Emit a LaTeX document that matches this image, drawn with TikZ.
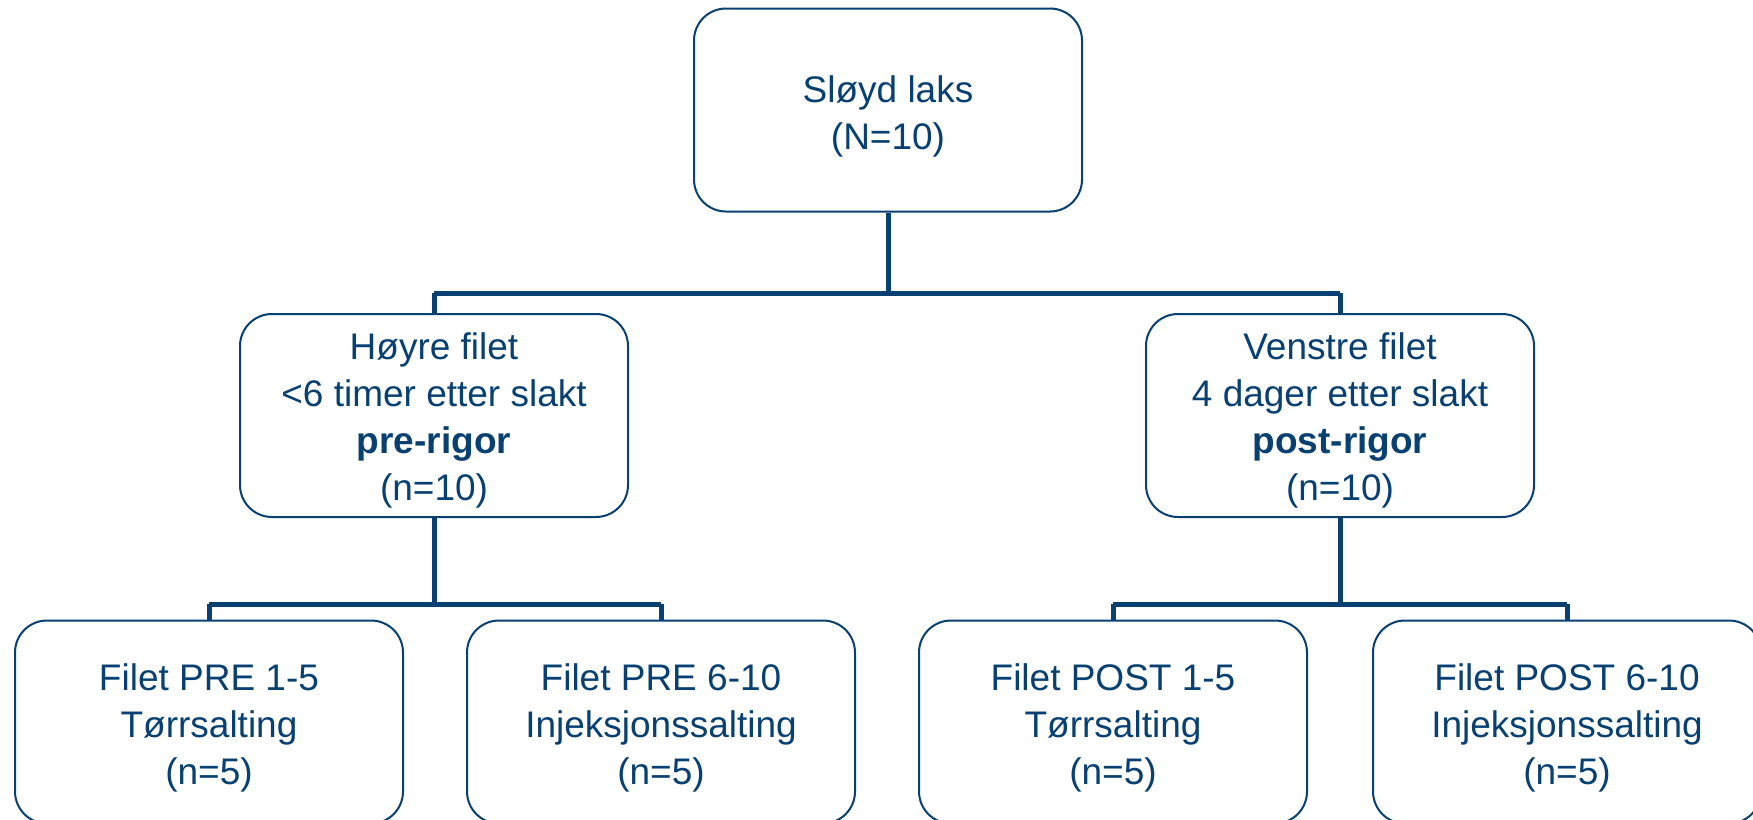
\documentclass[tikz,border=0pt]{standalone}
\usepackage{fontspec}
\setmainfont{Liberation Sans}
\definecolor{navy}{RGB}{8,64,114}
\begin{document}
\begin{tikzpicture}[x=1pt,y=-1pt,
  box/.style={draw=navy, line width=2pt, rounded corners=32pt, fill=white,
    minimum width=388pt, minimum height=203pt, inner sep=0pt},
  txt/.style={align=center, text=navy, font=\fontsize{37}{47}\selectfont, inner sep=0pt},
  conn/.style={draw=navy, line width=5pt}]
\useasboundingbox (0,0) rectangle (1753,819);
\fill[white] (0,0) rectangle (1753,819);
\coordinate (ht) at (888,293);
\coordinate (hl) at (434,293);
\coordinate (hr) at (1340,293);
\coordinate (bl) at (434,604);
\coordinate (br) at (1340,604);
\coordinate (bl1) at (209,604);
\coordinate (bl2) at (661,604);
\coordinate (br1) at (1113,604);
\coordinate (br2) at (1567,604);
\node[box] (top) at (888,110) {};
\node[box] (ml) at (434,415.5) {};
\node[box] (mr) at (1340,415.5) {};
\node[box] (b1) at (209,722) {};
\node[box] (b2) at (661,722) {};
\node[box] (b3) at (1113,722) {};
\node[box] (b4) at (1567,722) {};
\node[txt] (ttop) at ([yshift=-6pt]top.center) {Sløyd laks\\(N=10)};
\node[txt] (tml) at ([yshift=-5pt]ml.center) {Høyre filet\\<6 timer etter slakt\\\textbf{pre-rigor}\\(n=10)};
\node[txt] (tmr) at ([yshift=-5pt]mr.center) {Venstre filet\\4 dager etter slakt\\\textbf{post-rigor}\\(n=10)};
\node[txt] (tb1) at ([yshift=-6pt]b1.center) {Filet PRE 1-5\\Tørrsalting\\(n=5)};
\node[txt] (tb2) at ([yshift=-6pt]b2.center) {Filet PRE 6-10\\Injeksjonssalting\\(n=5)};
\node[txt] (tb3) at ([yshift=-6pt]b3.center) {Filet POST 1-5\\Tørrsalting\\(n=5)};
\node[txt] (tb4) at ([yshift=-6pt]b4.center) {Filet POST 6-10\\Injeksjonssalting\\(n=5)};
\draw[conn] (top.south) -- (ht);
\draw[conn] (hl) -- (hr);
\draw[conn] (hl) -- (ml.north);
\draw[conn] (hr) -- (mr.north);
\draw[conn] (ml.south) -- (bl);
\draw[conn] (mr.south) -- (br);
\draw[conn] (bl1) -- (bl2);
\draw[conn] (br1) -- (br2);
\draw[conn] (bl1) -- (b1.north);
\draw[conn] (bl2) -- (b2.north);
\draw[conn] (br1) -- (b3.north);
\draw[conn] (br2) -- (b4.north);
\end{tikzpicture}
\end{document}
